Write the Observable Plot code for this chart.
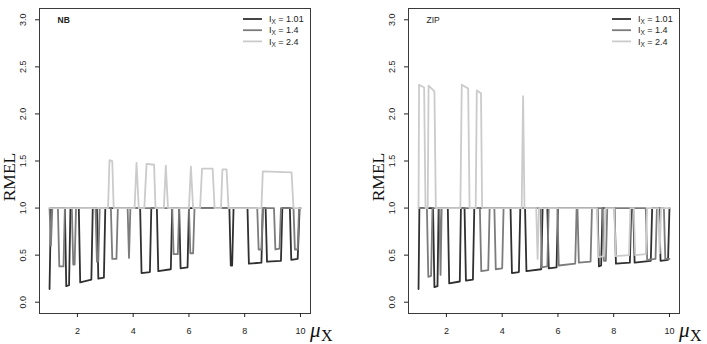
<!DOCTYPE html>
<html>
<head>
<meta charset="utf-8">
<script src="https://cdn.jsdelivr.net/npm/d3@7"></script>
<script src="https://cdn.jsdelivr.net/npm/@observablehq/plot@0.6"></script>
<style>
  body { margin: 0; background: #fff; }
  #chart { position: relative; width: 707px; height: 344px; overflow: hidden; background: #fff; }
  #chart svg { position: absolute; top: 0; }
</style>
</head>
<body>
<div id="chart"></div>
<script>
// Dispersion index levels and their grey line colours
const levels = ["1.01", "1.4", "2.4"];
const greys = ["#303030", "#7c7c7c", "#cbcbcb"];
const xTicks = [2, 4, 6, 8, 10];
const yTicks = [0, 0.5, 1, 1.5, 2, 2.5, 3];
const panelNames = ["NB", "ZIP"];

// RMEL against mu_X, negative binomial model: [mu, RMEL]
const nb101 = [[1.00,0.14],[1.05,1.00],[1.55,1.00],[1.60,0.17],[1.70,0.18],[1.75,1.00],[2.05,1.00],[2.10,0.21],[2.50,0.24],[2.55,1.00],[2.70,1.00],[2.75,0.25],[2.95,0.26],[3.00,1.00],[4.25,1.00],[4.30,0.31],[4.60,0.32],[4.65,1.00],[4.85,1.00],[4.90,0.33],[5.35,0.35],[5.40,1.00],[5.65,1.00],[5.70,0.36],[5.95,0.37],[6.00,1.00],[7.45,1.00],[7.50,0.39],[7.55,0.39],[7.60,1.00],[8.10,1.00],[8.15,0.41],[8.60,0.42],[8.65,1.00],[8.75,1.00],[8.80,0.43],[9.30,0.44],[9.35,1.00],[9.62,1.00],[9.67,0.45],[9.90,0.46],[9.97,1.00],[10.00,1.00]];
const nb14 = [[1.00,1.00],[1.05,0.60],[1.10,1.00],[1.30,1.00],[1.35,0.38],[1.50,0.38],[1.55,1.00],[1.80,1.00],[1.85,0.40],[1.90,0.40],[1.95,1.00],[2.65,1.00],[2.70,0.43],[2.75,0.44],[2.80,1.00],[3.20,1.00],[3.25,0.46],[3.40,0.46],[3.45,1.00],[3.80,1.00],[3.85,0.47],[3.90,1.00],[5.40,1.00],[5.45,0.51],[5.60,0.51],[5.65,1.00],[6.00,1.00],[6.05,0.52],[6.15,0.52],[6.20,1.00],[8.45,1.00],[8.50,0.56],[8.60,0.56],[8.65,1.00],[9.05,1.00],[9.10,0.56],[9.25,0.57],[9.30,1.00],[9.75,1.00],[9.80,0.56],[9.90,0.56],[9.95,1.00],[10.00,1.00]];
const nb24 = [[1.00,1.00],[3.10,1.00],[3.15,1.51],[3.25,1.50],[3.30,1.00],[4.05,1.00],[4.12,1.48],[4.20,1.00],[4.40,1.00],[4.48,1.47],[4.75,1.46],[4.80,1.00],[5.10,1.00],[5.17,1.45],[5.25,1.00],[6.00,1.00],[6.07,1.44],[6.15,1.00],[6.40,1.00],[6.47,1.42],[6.85,1.42],[6.92,1.00],[7.15,1.00],[7.20,1.41],[7.35,1.41],[7.42,1.00],[8.60,1.00],[8.65,1.39],[9.68,1.38],[9.75,1.00],[10.00,1.00]];

// RMEL against mu_X, zero-inflated Poisson model: [mu, RMEL]
const zip101 = [[1.00,0.14],[1.03,1.00],[1.52,1.00],[1.57,0.16],[1.68,0.17],[1.72,1.00],[2.05,1.00],[2.10,0.20],[2.48,0.22],[2.52,1.00],[2.65,1.00],[2.70,0.23],[2.95,0.24],[3.00,1.00],[4.30,1.00],[4.35,0.31],[4.60,0.32],[4.65,1.00],[4.82,1.00],[4.87,0.33],[5.40,0.35],[5.45,1.00],[5.62,1.00],[5.67,0.36],[5.95,0.37],[6.00,1.00],[7.42,1.00],[7.47,0.38],[7.55,0.39],[7.60,1.00],[8.03,1.00],[8.08,0.41],[8.58,0.42],[8.63,1.00],[8.70,1.00],[8.75,0.42],[9.33,0.44],[9.38,1.00],[9.63,1.00],[9.68,0.44],[9.95,0.45],[10.00,1.00]];
const zip14 = [[1.00,1.00],[1.30,1.00],[1.35,0.27],[1.45,0.28],[1.50,1.00],[1.75,1.00],[1.79,0.29],[1.83,1.00],[3.20,1.00],[3.25,0.33],[3.50,0.34],[3.55,1.00],[3.72,1.00],[3.77,0.35],[4.00,0.36],[4.05,1.00],[5.38,1.00],[5.42,0.37],[5.62,0.38],[5.67,1.00],[5.98,1.00],[6.03,0.39],[6.62,0.41],[6.67,1.00],[6.70,1.00],[6.75,0.42],[7.17,0.43],[7.22,1.00],[7.60,1.00],[7.65,0.44],[7.72,0.44],[7.77,1.00],[9.15,1.00],[9.20,0.45],[9.50,0.46],[9.55,1.00],[9.80,1.00],[9.85,0.46],[10.00,0.46]];
const zip24 = [[1.00,1.00],[1.02,2.31],[1.20,2.28],[1.25,1.00],[1.33,1.00],[1.36,2.30],[1.57,2.24],[1.62,1.00],[2.50,1.00],[2.55,2.31],[2.78,2.27],[2.83,1.00],[3.05,1.00],[3.09,2.25],[3.24,2.22],[3.28,1.00],[4.70,1.00],[4.75,2.19],[4.80,1.00],[5.22,1.00],[5.27,0.46],[5.32,1.00],[7.40,1.00],[7.45,0.48],[7.65,0.49],[7.70,1.00],[8.02,1.00],[8.07,0.49],[8.55,0.50],[8.60,1.00],[8.72,1.00],[8.77,0.50],[9.15,0.51],[9.20,1.00],[9.60,1.00],[9.65,0.52],[9.70,1.00],[10.00,1.00]];

const sans = '"Liberation Sans", Arial, Helvetica, sans-serif';
const serif = '"Liberation Serif", "Times New Roman", serif';

function panel(name, series, {width, marginLeft, marginRight, bold}) {
  const svg = Plot.plot({
    width,
    height: 344,
    marginTop: 8,
    marginBottom: 31,
    marginLeft,
    marginRight,
    style: {fontFamily: sans, fontSize: "9px", color: "#222", background: "transparent", overflow: "visible"},
    x: {domain: [0.64, 10.36]},
    y: {domain: [-0.12, 3.12]},
    marks: [
      ...series.map((pts, i) =>
        Plot.line(pts, {x: d => d[0], y: d => d[1], stroke: greys[i], strokeWidth: 1.8})
      ),
      Plot.frame({stroke: "#3a3a3a", strokeWidth: 1}),
      Plot.axisX({ticks: xTicks, tickSize: 4, tickPadding: 10, label: null}),
      Plot.axisY({ticks: yTicks, tickSize: 4, tickFormat: () => "", label: null}),
      Plot.text(yTicks, {
        y: d => d, text: d => d.toFixed(1), frameAnchor: "left", dx: -16.5,
        rotate: -90, textAnchor: "middle", lineAnchor: "middle"
      }),
      Plot.text([name], {
        text: d => d, frameAnchor: "top-left", dx: 18, dy: 12,
        textAnchor: "start", lineAnchor: "middle", fontSize: 8.5, fontWeight: bold ? "bold" : "normal"
      })
    ]
  });

  const s = d3.select(svg);
  const right = width - marginRight;

  // legend, top right inside the frame
  const lg = s.append("g").attr("text-anchor", "start");
  levels.forEach((lv, i) => {
    const y = 19 + i * 11.2;
    lg.append("line")
      .attr("x1", right - 67).attr("x2", right - 48)
      .attr("y1", y).attr("y2", y)
      .attr("stroke", greys[i]).attr("stroke-width", 1.8);
    const t = lg.append("text")
      .attr("x", right - 41).attr("y", y + 3.2)
      .attr("font-family", sans).attr("font-size", 9).attr("fill", "#222");
    t.append("tspan").text("I");
    t.append("tspan").attr("font-size", 6.5).attr("dy", 2).text("X");
    t.append("tspan").attr("dy", -2).text(" = " + lv);
  });

  // y axis title
  s.append("text")
    .attr("transform", `translate(${marginLeft - 24},177) rotate(-90)`)
    .attr("text-anchor", "middle")
    .attr("font-family", serif).attr("font-size", 17.5).attr("fill", "#111")
    .text("RMEL");

  // x axis title: mu with subscript X
  const xt = s.append("g").attr("text-anchor", "start");
  xt.append("text")
    .attr("x", right).attr("y", 336.5)
    .attr("font-family", serif).attr("font-style", "italic").attr("font-size", 21).attr("fill", "#111")
    .text("\u03BC");
  xt.append("text")
    .attr("x", right + 11).attr("y", 340.5)
    .attr("font-family", serif).attr("font-size", 16).attr("fill", "#111")
    .text("X");

  return svg;
}

const chart = document.getElementById("chart");
const left = panel(panelNames[0], [nb101, nb14, nb24], {width: 354, marginLeft: 39, marginRight: 44, bold: true});
left.style.left = "0px";
const rightPanel = panel(panelNames[1], [zip101, zip14, zip24], {width: 353, marginLeft: 54, marginRight: 28, bold: false});
rightPanel.style.left = "354px";
chart.append(left, rightPanel);
</script>
</body>
</html>
